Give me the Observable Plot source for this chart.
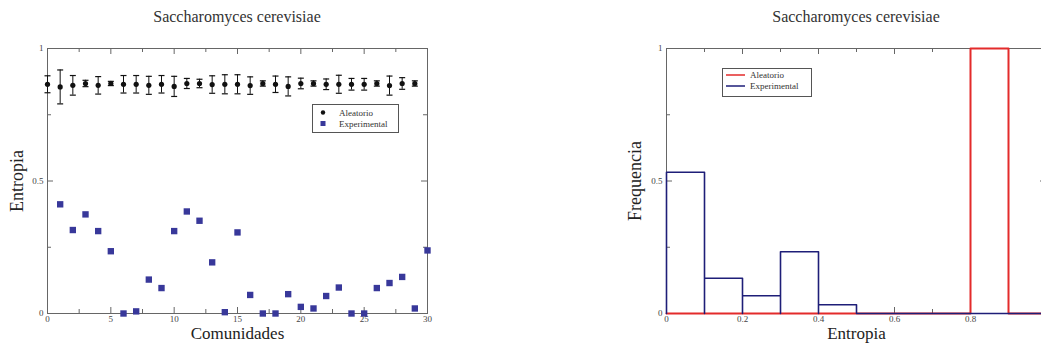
<!DOCTYPE html>
<html>
<head>
<meta charset="utf-8">
<script src="https://cdn.jsdelivr.net/npm/d3@7"></script>
<script src="https://cdn.jsdelivr.net/npm/@observablehq/plot@0.6"></script>
<style>
  html, body { margin: 0; padding: 0; background: #fff; }
  #page { position: relative; width: 1041px; height: 347px; overflow: hidden;
          font-family: "Liberation Serif", "DejaVu Serif", serif; }
  .panel { position: absolute; top: 0; }
  .title { position: absolute; top: 8px; font-size: 16px; color: #333;
           transform: translateX(-50%); white-space: nowrap; }
</style>
</head>
<body>
<div id="page">
  <div class="title" style="left:237px">Saccharomyces cerevisiae</div>
  <div class="title" style="left:856px">Saccharomyces cerevisiae</div>
</div>
<script>
// ---- Entropy per community ----
const aleatorioX = [0, 1, 2, 3, 4, 5, 6, 7, 8, 9, 10, 11, 12, 13, 14, 15, 16, 17, 18, 19, 20, 21, 22, 23, 24, 25, 26, 27, 28, 29];
const aleatorioMean = [0.865, 0.855, 0.861, 0.868, 0.861, 0.868, 0.865, 0.865, 0.861, 0.865,
                       0.857, 0.868, 0.868, 0.864, 0.865, 0.865, 0.860, 0.868, 0.865, 0.857,
                       0.868, 0.868, 0.865, 0.865, 0.865, 0.865, 0.868, 0.860, 0.868, 0.868];
const aleatorioErr = [0.032, 0.064, 0.037, 0.012, 0.033, 0.008, 0.033, 0.033, 0.034, 0.033,
                      0.038, 0.019, 0.016, 0.033, 0.036, 0.036, 0.033, 0.010, 0.031, 0.036,
                      0.020, 0.010, 0.020, 0.034, 0.022, 0.022, 0.010, 0.036, 0.022, 0.010];
const experimentalX = [1, 2, 3, 4, 5, 6, 7, 8, 9, 10, 11, 12, 13, 14, 15, 16, 17, 18, 19, 20, 21, 22, 23, 24, 25, 26, 27, 28, 29, 30];
const experimentalEntropy = [0.412, 0.315, 0.374, 0.311, 0.235, 0.000, 0.008, 0.128, 0.096, 0.311,
                             0.385, 0.350, 0.193, 0.005, 0.306, 0.070, 0.000, 0.000, 0.073, 0.025,
                             0.019, 0.066, 0.098, 0.000, 0.000, 0.096, 0.115, 0.138, 0.019, 0.238];

// ---- Entropy histogram (bin edges and relative frequency) ----
const binStart = [0.0, 0.1, 0.2, 0.3, 0.4, 0.5, 0.6, 0.7, 0.8, 0.9];
const binEnd   = [0.1, 0.2, 0.3, 0.4, 0.5, 0.6, 0.7, 0.8, 0.9, 1.0];
const freqAleatorio    = [0, 0, 0, 0, 0, 0, 0, 0, 1, 0];
const freqExperimental = [0.533, 0.133, 0.067, 0.233, 0.033, 0, 0, 0, 0, 0];

// ---- Axis ticks ----
const leftXLabels = [0, 5, 10, 15, 20, 25, 30];
const leftXMinor = [2.5, 7.5, 12.5, 17.5, 22.5, 27.5];
const rightXLabels = [0, 0.2, 0.4, 0.6, 0.8];
const rightXMajor = [0, 0.2, 0.4, 0.6, 0.8, 1.0];
const rightXMinor = [0.1, 0.3, 0.5, 0.7, 0.9];
const yLabels = [0, 0.5, 1];
const yMinor = [0.25, 0.75];

const navy = "#1e1e78";
const squareBlue = "#38389a";
const red = "#e32b2b";
const frameColor = "#666";
const serif = "Liberation Serif, DejaVu Serif, serif";

const H = 347, MT = 48, MB = 34;
const frameH = H - MT - MB;

// Inward-pointing tick marks on all four sides of the frame
function frameTicks(xs, ys, frameW, len) {
  return [
    Plot.tickX(xs, {x: d => d, stroke: frameColor, insetTop: frameH - len}),
    Plot.tickX(xs, {x: d => d, stroke: frameColor, insetBottom: frameH - len}),
    Plot.tickY(ys, {y: d => d, stroke: frameColor, insetRight: frameW - len}),
    Plot.tickY(ys, {y: d => d, stroke: frameColor, insetLeft: frameW - len})
  ];
}

// Horizontal error-bar cap drawn as a custom symbol
const capSymbol = {
  draw(ctx, size) {
    const r = Math.sqrt(size / Math.PI);
    ctx.moveTo(-r, 0);
    ctx.lineTo(r, 0);
  }
};

// ---------- Left panel: entropy by community ----------
const aleatorio = aleatorioX.map((x, i) => ({x, y: aleatorioMean[i], e: aleatorioErr[i]}));
const experimental = experimentalX.map((x, i) => ({x, y: experimentalEntropy[i]}));

const LW = 450, LML = 47, LMR = 23;
const left = Plot.plot({
  width: LW, height: H,
  marginLeft: LML, marginRight: LMR, marginTop: MT, marginBottom: MB,
  style: {fontFamily: serif, fontSize: "9px", color: "#444", background: "transparent"},
  x: {domain: [0, 30], ticks: leftXLabels, tickSize: 0, tickPadding: 2, tickFormat: d => String(d), label: null},
  y: {domain: [0, 1], ticks: yLabels, tickSize: 0, tickPadding: 4, tickFormat: d => String(d), label: null},
  marks: [
    Plot.frame({stroke: frameColor}),
    ...frameTicks(leftXLabels, yLabels, LW - LML - LMR, 6),
    ...frameTicks(leftXMinor, yMinor, LW - LML - LMR, 4),
    Plot.ruleX(aleatorio, {x: "x", y1: d => d.y - d.e, y2: d => d.y + d.e, stroke: "#111", strokeWidth: 1}),
    Plot.dot(aleatorio, {x: "x", y: d => d.y - d.e, symbol: capSymbol, r: 3, fill: "none", stroke: "#111", strokeWidth: 1.2}),
    Plot.dot(aleatorio, {x: "x", y: d => d.y + d.e, symbol: capSymbol, r: 3, fill: "none", stroke: "#111", strokeWidth: 1.2}),
    Plot.dot(aleatorio, {x: "x", y: "y", r: 2.6, fill: "#111", stroke: "none"}),
    Plot.dot(experimental, {x: "x", y: "y", symbol: "square", r: 3.6, fill: squareBlue, stroke: "none"}),
    Plot.text(["Comunidades"], {frameAnchor: "bottom", dy: 25.5, fontSize: 17, fontFamily: serif, fill: "#222", textAnchor: "middle"}),
    Plot.text(["Entropia"], {frameAnchor: "left", dx: -30, rotate: -90, fontSize: 18, fontFamily: serif, fill: "#222", textAnchor: "middle"})
  ]
});
left.classList.add("panel");
left.style.left = "0px";

// Legend for the left panel
{
  const g = d3.select(left).append("g")
    .attr("font-family", serif).attr("font-size", 9).attr("fill", "#333").attr("text-anchor", "start");
  g.append("rect").attr("x", 312.5).attr("y", 104.5).attr("width", 86).attr("height", 28)
    .attr("fill", "#fff").attr("stroke", "#555");
  g.append("circle").attr("cx", 323).attr("cy", 112.5).attr("r", 2.2).attr("fill", "#111");
  g.append("rect").attr("x", 320.5).attr("y", 121).attr("width", 5).attr("height", 5).attr("fill", squareBlue);
  g.append("text").attr("x", 339).attr("y", 115.5).text("Aleatorio");
  g.append("text").attr("x", 339).attr("y", 126.5).text("Experimental");
}

// ---------- Right panel: entropy histogram ----------
// Outline of each histogram: every bin rises from zero and drops back to zero
function outline(freq) {
  return binStart.flatMap((lo, i) => [
    {x: lo, y: 0}, {x: lo, y: freq[i]}, {x: binEnd[i], y: freq[i]}, {x: binEnd[i], y: 0}
  ]);
}

const RW = 460, RML = 66, RMR = 14, RLEFT = 600;
const right = Plot.plot({
  width: RW, height: H,
  marginLeft: RML, marginRight: RMR, marginTop: MT, marginBottom: MB,
  style: {fontFamily: serif, fontSize: "9px", color: "#444", background: "transparent", overflow: "visible"},
  x: {domain: [0, 1], ticks: rightXLabels, tickSize: 0, tickPadding: 2, tickFormat: d => String(d), label: null},
  y: {domain: [0, 1], ticks: yLabels, tickSize: 0, tickPadding: 4, tickFormat: d => String(d), label: null},
  marks: [
    Plot.frame({stroke: frameColor}),
    ...frameTicks(rightXMajor, yLabels, RW - RML - RMR, 6),
    ...frameTicks(rightXMinor, yMinor, RW - RML - RMR, 4),
    Plot.line(outline(freqAleatorio), {x: "x", y: "y", stroke: red, strokeWidth: 2, curve: "linear"}),
    Plot.line(outline(freqExperimental), {x: "x", y: "y", stroke: navy, strokeWidth: 1.6, curve: "linear"}),
    Plot.text(["Entropia"], {frameAnchor: "bottom", dy: 25.5, fontSize: 17, fontFamily: serif, fill: "#222", textAnchor: "middle"}),
    Plot.text(["Frequencia"], {frameAnchor: "left", dx: -31, rotate: -90, fontSize: 18, fontFamily: serif, fill: "#222", textAnchor: "middle"})
  ]
});
right.classList.add("panel");
right.style.left = RLEFT + "px";

// Legend for the right panel
{
  const g = d3.select(right).append("g")
    .attr("font-family", serif).attr("font-size", 9).attr("fill", "#333").attr("text-anchor", "start");
  g.append("rect").attr("x", 122.5).attr("y", 68.5).attr("width", 89).attr("height", 28)
    .attr("fill", "#fff").attr("stroke", "#555");
  g.append("line").attr("x1", 126).attr("x2", 145).attr("y1", 75).attr("y2", 75).attr("stroke", red).attr("stroke-width", 1.5);
  g.append("line").attr("x1", 126).attr("x2", 145).attr("y1", 86).attr("y2", 86).attr("stroke", navy).attr("stroke-width", 1.5);
  g.append("text").attr("x", 150).attr("y", 78).text("Aleatorio");
  g.append("text").attr("x", 150).attr("y", 89).text("Experimental");
}

document.getElementById("page").append(left, right);
</script>
</body>
</html>
